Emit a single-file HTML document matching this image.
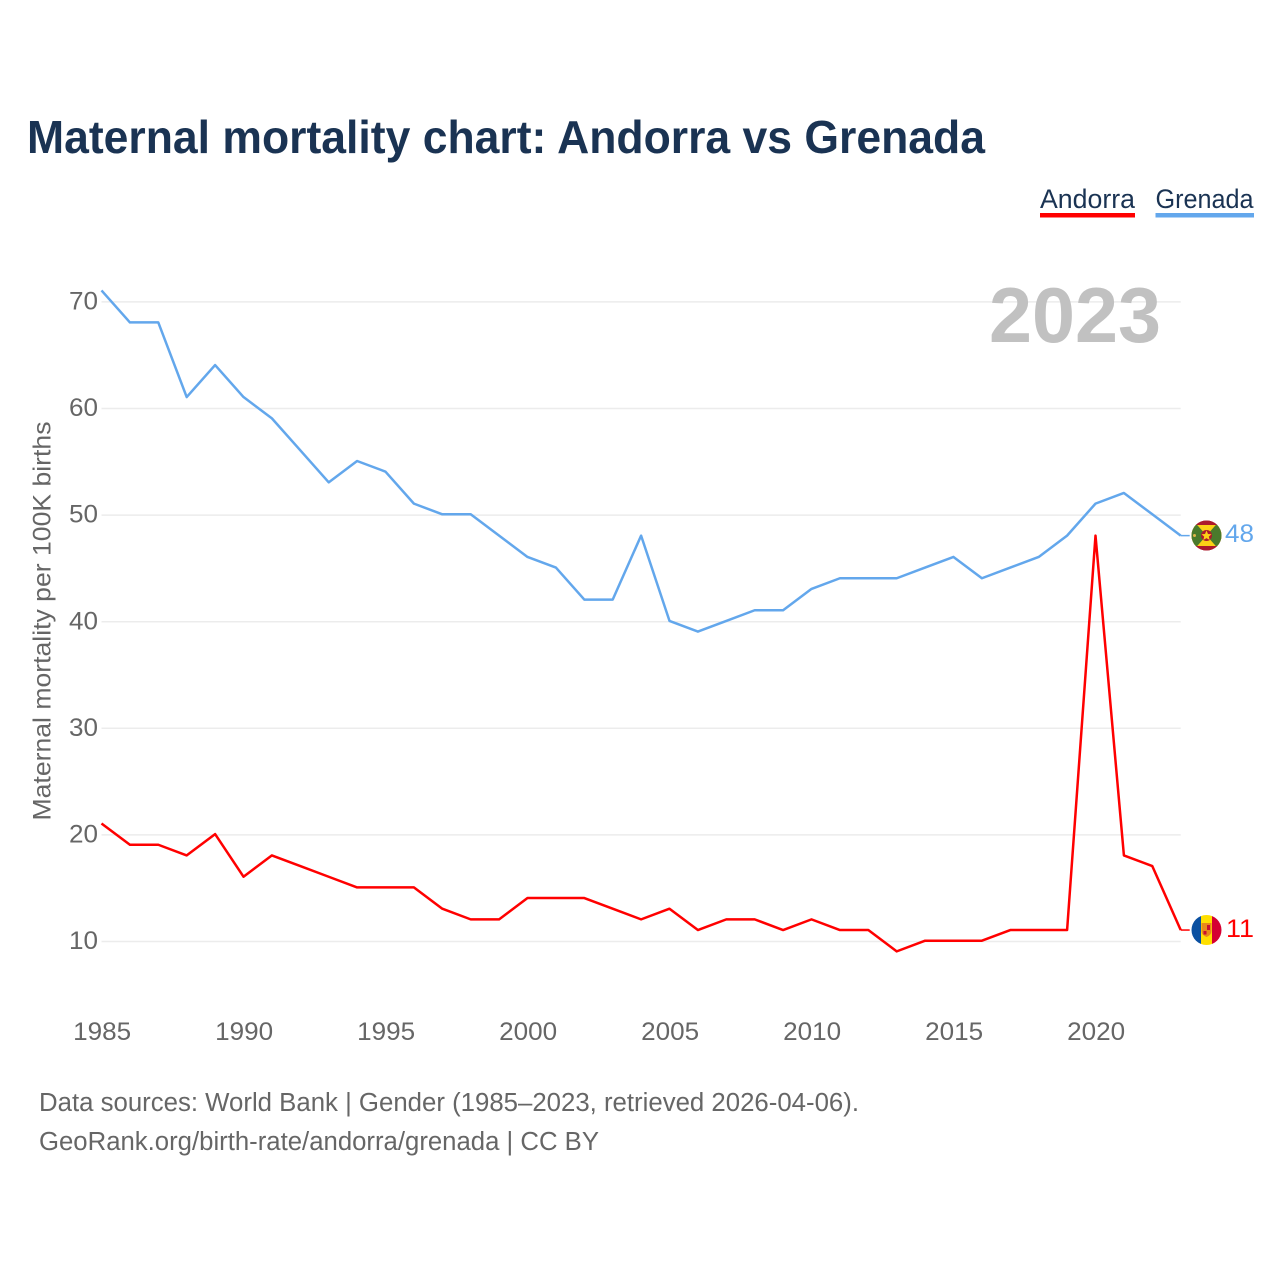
<!DOCTYPE html>
<html lang="en">
<head>
<meta charset="utf-8">
<title>Maternal mortality chart: Andorra vs Grenada</title>
<style>
html,body{margin:0;padding:0;background:#fff;width:1280px;height:1280px;overflow:hidden}
svg{display:block}
text{font-family:"Liberation Sans",sans-serif}
</style>
</head>
<body>
<svg id="chart" xmlns="http://www.w3.org/2000/svg" width="1280" height="1280" viewBox="0 0 1280 1280">
  <rect x="0" y="0" width="1280" height="1280" fill="#ffffff"/>
  <text x="27" y="153" font-size="46" font-weight="700" fill="#1a3353" textLength="958" lengthAdjust="spacingAndGlyphs">Maternal mortality chart: Andorra vs Grenada</text>

  <g>
    <text x="1040" y="208" font-size="27" fill="#1a3353" textLength="95" lengthAdjust="spacingAndGlyphs">Andorra</text>
    <rect x="1040" y="213" width="95" height="4.5" fill="#ff0000"/>
  </g>
  <g>
    <text x="1155.5" y="208" font-size="27" fill="#1a3353" textLength="98" lengthAdjust="spacingAndGlyphs">Grenada</text>
    <rect x="1155.5" y="213" width="98.5" height="4.5" fill="#63a7ec"/>
  </g>

  <g id="grid"></g>
  <g id="yticks"></g>
  <g id="xticks"></g>

  <text x="1161" y="342" text-anchor="end" font-size="78" font-weight="700" fill="#c1c1c1" textLength="172" lengthAdjust="spacingAndGlyphs">2023</text>

  <text transform="translate(50.5,621) rotate(-90)" text-anchor="middle" font-size="25" fill="#666666" textLength="399" lengthAdjust="spacingAndGlyphs">Maternal mortality per 100K births</text>

  <g id="series"></g>

  <defs>
    <clipPath id="flag-clip-grenada"><circle cx="1206.5" cy="535.5" r="15"/></clipPath>
    <clipPath id="flag-clip-andorra"><circle cx="1206.5" cy="930" r="15"/></clipPath>
  </defs>

  <g clip-path="url(#flag-clip-grenada)">
    <rect x="1191" y="520" width="31" height="31" fill="#ac1a2d"/>
    <rect x="1191" y="525" width="31" height="21" fill="#fcd116"/>
    <polygon points="1191,518 1206.5,535.5 1191,553" fill="#4a7a2c"/>
    <polygon points="1222,518 1206.5,535.5 1222,553" fill="#4a7a2c"/>
    <rect x="1191" y="520" width="31" height="5" fill="#ac1a2d"/>
    <rect x="1191" y="546" width="31" height="5" fill="#ac1a2d"/>
    <circle cx="1206.5" cy="535.5" r="5.5" fill="#ac1a2d"/>
    <polygon points="1206.5,530.5 1208,534 1211.5,534.2 1208.8,536.6 1209.7,540 1206.5,538.1 1203.3,540 1204.2,536.6 1201.5,534.2 1205,534" fill="#fcd116"/>
    <circle cx="1194.5" cy="535.5" r="1.5" fill="#e2b64a"/>
  </g>

  <g clip-path="url(#flag-clip-andorra)">
    <rect x="1191" y="915" width="10" height="30" fill="#0a50a1"/>
    <rect x="1201" y="915" width="11" height="30" fill="#fedf00"/>
    <rect x="1212" y="915" width="10" height="30" fill="#d50032"/>
    <path d="M1201.500 923h10v8q0 4-5 6q-5-2-5-6z" fill="#e88a1a"/>
    <rect x="1207" y="925" width="3" height="5" fill="#c8102e"/>
    <rect x="1203.500" y="931" width="3" height="3.500" fill="#c8102e"/>
  </g>

  <text x="1225" y="542" font-size="25" fill="#63a7ec" textLength="29" lengthAdjust="spacingAndGlyphs">48</text>
  <text x="1226" y="937" font-size="25" fill="#ff0000" textLength="28" lengthAdjust="spacingAndGlyphs">11</text>

  <text x="39" y="1111" font-size="25.500" fill="#666666" textLength="820" lengthAdjust="spacingAndGlyphs">Data sources: World Bank | Gender (1985–2023, retrieved 2026-04-06).</text>
  <text x="39" y="1150" font-size="25.500" fill="#666666" textLength="560" lengthAdjust="spacingAndGlyphs">GeoRank.org/birth-rate/andorra/grenada | CC BY</text>
</svg>

<script>
const years = [1985,1986,1987,1988,1989,1990,1991,1992,1993,1994,1995,1996,1997,1998,1999,2000,2001,2002,2003,2004,2005,2006,2007,2008,2009,2010,2011,2012,2013,2014,2015,2016,2017,2018,2019,2020,2021,2022,2023];
const grenadaValues = [71,68,68,61,64,61,59,56,53,55,54,51,50,50,48,46,45,42,42,48,40,39,40,41,41,43,44,44,44,45,46,44,45,46,48,51,52,50,48];
const andorraValues = [21,19,19,18,20,16,18,17,16,15,15,15,13,12,12,14,14,14,13,12,13,11,12,12,11,12,11,11,9,10,10,10,11,11,11,48,18,17,11];
const yTickValues = [10,20,30,40,50,60,70];
const xTickYears = [1985,1990,1995,2000,2005,2010,2015,2020];

const NS = 'http://www.w3.org/2000/svg';
function xScale(year) { return 101.5 + (year - 1985) * 28.4; }
function yScale(value) { return 941.5 - (value - 10) * 10.66; }
function lineY(value) { return yScale(value) - 0.8; }

const gridGroup = document.getElementById('grid');
const yTickGroup = document.getElementById('yticks');
const xTickGroup = document.getElementById('xticks');
const seriesGroup = document.getElementById('series');

yTickValues.forEach(function (value) {
  const line = document.createElementNS(NS, 'line');
  
  
  line.setAttribute('x1', xScale(1985));
  line.setAttribute('x2', xScale(2023));
  line.setAttribute('y1', yScale(value));
  line.setAttribute('y2', yScale(value));
  line.setAttribute('stroke', '#ececec');
  line.setAttribute('stroke-width', '1.5');
  gridGroup.appendChild(line);

  const label = document.createElementNS(NS, 'text');
  
  
  label.setAttribute('x', 98);
  label.setAttribute('y', yScale(value) + 7.6);
  label.setAttribute('text-anchor', 'end');
  label.setAttribute('font-size', '25');
  label.setAttribute('fill', '#666666');
  label.setAttribute('textLength', '29');
  label.setAttribute('lengthAdjust', 'spacingAndGlyphs');
  label.textContent = value;
  yTickGroup.appendChild(label);
});

xTickYears.forEach(function (year) {
  const label = document.createElementNS(NS, 'text');
  
  
  label.setAttribute('x', xScale(year) + 0.6);
  label.setAttribute('y', 1040);
  label.setAttribute('text-anchor', 'middle');
  label.setAttribute('font-size', '25');
  label.setAttribute('fill', '#666666');
  label.setAttribute('textLength', '58');
  label.setAttribute('lengthAdjust', 'spacingAndGlyphs');
  label.textContent = year;
  xTickGroup.appendChild(label);
});

function pathFor(values) {
  return values.map(function (value, i) {
    return (i ? 'L' : 'M') + xScale(years[i]).toFixed(2) + ' ' + lineY(value).toFixed(2);
  }).join(' ');
}

function stubFor(values) {
  const last = values[values.length - 1];
  const lastX = xScale(years[years.length - 1]);
  return 'M' + lastX.toFixed(2) + ' ' + lineY(last).toFixed(2) + ' L' + (lastX + 9).toFixed(2) + ' ' + lineY(last).toFixed(2);
}

const grenadaLine = document.createElementNS(NS, 'path');


grenadaLine.setAttribute('d', pathFor(grenadaValues));
grenadaLine.setAttribute('fill', 'none');
grenadaLine.setAttribute('stroke', '#63a7ec');
grenadaLine.setAttribute('stroke-width', '2.5');
grenadaLine.setAttribute('stroke-linejoin', 'round');
seriesGroup.appendChild(grenadaLine);

const grenadaStub = document.createElementNS(NS, 'path');


grenadaStub.setAttribute('d', stubFor(grenadaValues));
grenadaStub.setAttribute('fill', 'none');
grenadaStub.setAttribute('stroke', '#63a7ec');
grenadaStub.setAttribute('stroke-width', '1.5');
seriesGroup.appendChild(grenadaStub);

const andorraLine = document.createElementNS(NS, 'path');


andorraLine.setAttribute('d', pathFor(andorraValues));
andorraLine.setAttribute('fill', 'none');
andorraLine.setAttribute('stroke', '#ff0000');
andorraLine.setAttribute('stroke-width', '2.5');
andorraLine.setAttribute('stroke-linejoin', 'round');
seriesGroup.appendChild(andorraLine);

const andorraStub = document.createElementNS(NS, 'path');


andorraStub.setAttribute('d', stubFor(andorraValues));
andorraStub.setAttribute('fill', 'none');
andorraStub.setAttribute('stroke', '#ff0000');
andorraStub.setAttribute('stroke-width', '1.5');
seriesGroup.appendChild(andorraStub);
</script>
</body>
</html>
